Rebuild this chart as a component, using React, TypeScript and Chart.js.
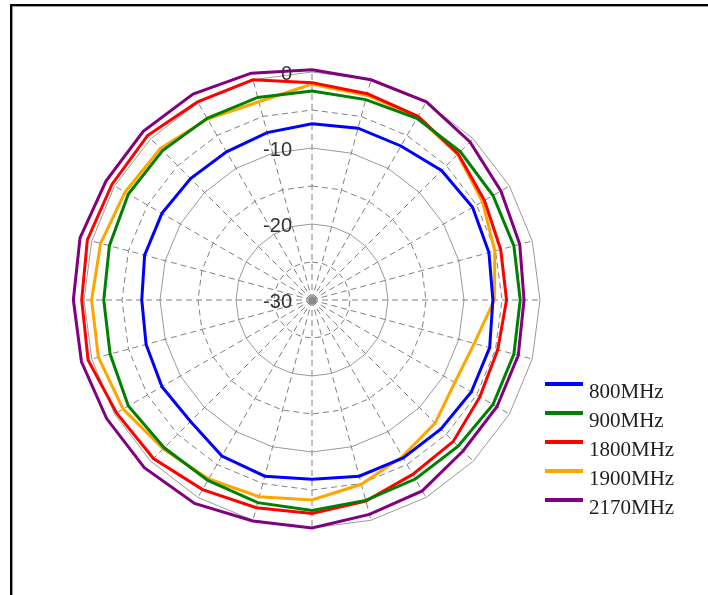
import React, { useEffect, useRef } from 'react';
import { Chart, registerables } from 'chart.js';

Chart.register(...registerables);

// Angles (degrees, clockwise from top)
const angleLabels = [
  '0', '15', '30', '45', '60', '75', '90', '105', '120', '135', '150', '165',
  '180', '195', '210', '225', '240', '255', '270', '285', '300', '315', '330', '345',
];

const seriesNames = ['800MHz', '900MHz', '1800MHz', '1900MHz', '2170MHz'];
const seriesColors = ['#0000ff', '#008000', '#ff0000', '#ffa500', '#800080'];

// Gain in dB at each angle
const values800 = [
  -6.8, -6.6, -6.6, -5.9, -5.6, -5.9, -6.2, -5.8, -5.8, -6.0, -6.0, -6.0,
  -6.4, -6.0, -6.3, -7.4, -7.2, -7.4, -7.6, -7.2, -7.2, -7.4, -7.5, -7.2,
];
const values900 = [
  -2.5, -2.7, -2.4, -2.4, -2.5, -2.5, -2.6, -2.5, -2.5, -2.8, -2.8, -2.7,
  -2.3, -2.4, -2.6, -2.5, -2.1, -2.5, -2.6, -2.4, -2.1, -2.2, -2.4, -2.4,
];
const values1800 = [
  -1.4, -1.9, -2.1, -2.8, -3.8, -4.3, -4.4, -4.7, -4.5, -3.7, -3.5, -2.6,
  -1.9, -1.7, -1.2, -0.5, -0.3, 0.5, 0.3, 0.6, 0.4, 0.6, 0.1, 0.0,
];
const values1900 = [
  -1.6, -2.1, -2.2, -2.9, -4.1, -5.1, -6.0, -7.9, -8.3, -7.1, -6.2, -4.9,
  -3.7, -3.2, -2.8, -2.3, -1.3, -0.9, -1.0, -1.2, -1.6, -1.8, -2.5, -3.0,
];
const values2170 = [
  0.3, 0.0, 0.1, -0.6, -1.3, -1.7, -2.1, -1.9, -1.9, -1.9, -1.0, -0.8,
  0.0, 0.1, 0.9, 1.2, 1.2, 1.4, 1.4, 1.6, 1.3, 1.4, 1.3, 0.9,
];

const seriesValues = [values800, values900, values1800, values1900, values2170];

const radialMin = -30;
const radialMax = 0;
const radialStep = 5;
const tickLabelValues = [0, -10, -20, -30];

const overlayPlugin = {
  id: 'overlay',
  afterDatasetsDraw(chart: any) {
    const r = chart.scales.r;
    const ctx = chart.ctx as CanvasRenderingContext2D;
    ctx.save();
    // centre marker where the dashed spokes meet
    ctx.fillStyle = '#8c8c8c';
    ctx.fillRect(r.xCenter - 3, r.yCenter - 3, 7, 7);
    // radial tick labels
    ctx.font = '20px "Liberation Sans", Arial, sans-serif';
    ctx.fillStyle = '#333';
    ctx.textAlign = 'right';
    ctx.textBaseline = 'middle';
    tickLabelValues.forEach((v) => {
      const d = r.getDistanceFromCenterForValue(v);
      ctx.fillText(String(v), r.xCenter - 20, r.yCenter - d + 2);
    });
    // legend
    const lx = chart.chartArea.right + 5;
    const ly = chart.chartArea.top + 312;
    chart.data.datasets.forEach((ds: any, i: number) => {
      const y = ly + 29 * i;
      ctx.strokeStyle = ds.borderColor;
      ctx.lineWidth = 4;
      ctx.lineCap = 'butt';
      ctx.beginPath();
      ctx.moveTo(lx, y);
      ctx.lineTo(lx + 38, y);
      ctx.stroke();
      ctx.font = '21px "Liberation Serif", "Times New Roman", serif';
      ctx.fillStyle = '#1e1e1e';
      ctx.textAlign = 'left';
      ctx.textBaseline = 'alphabetic';
      ctx.fillText(ds.label, lx + 44, y + 14);
    });
    ctx.restore();
  },
};

export default function App() {
  const canvasRef = useRef<HTMLCanvasElement | null>(null);

  useEffect(() => {
    if (!canvasRef.current) return;
    const chart = new Chart(canvasRef.current, {
      type: 'radar',
      data: {
        labels: angleLabels,
        datasets: seriesNames.map((name, i) => ({
          label: name,
          data: seriesValues[i],
          borderColor: seriesColors[i],
          backgroundColor: seriesColors[i],
          borderWidth: 3,
          pointRadius: 0,
          pointHoverRadius: 0,
          fill: false,
          tension: 0,
          clip: false,
        })),
      },
      options: {
        responsive: false,
        animation: false,
        events: [],
        layout: { padding: { left: 84, top: 72, right: 168, bottom: 67 } },
        plugins: {
          legend: { display: false },
          tooltip: { enabled: false },
        },
        scales: {
          r: {
            min: radialMin,
            max: radialMax,
            startAngle: 0,
            ticks: { display: false, stepSize: radialStep },
            pointLabels: { display: false },
            grid: {
              circular: false,
              lineWidth: 1,
              color: (c: any) =>
                c.tick && c.tick.value % 10 !== 0 ? '#808080' : '#9a9a9a',
            },
            border: {
              dash: (c: any) => (c.tick && c.tick.value % 10 !== 0 ? [6, 4] : []),
            },
            angleLines: {
              display: true,
              color: '#808080',
              lineWidth: 1,
              borderDash: [6, 4],
            },
          },
        },
      } as any,
      plugins: [overlayPlugin],
    });
    return () => chart.destroy();
  }, []);

  return (
    <div
      style={{
        position: 'absolute',
        left: 0,
        top: 0,
        width: 708,
        height: 595,
        overflow: 'hidden',
        background: '#fff',
      }}
    >
      <div
        style={{
          position: 'absolute',
          left: 10,
          top: 4,
          width: 800,
          height: 700,
          borderLeft: '2px solid #000',
          borderTop: '2px solid #000',
          boxShadow: 'inset 1px 1px 0 #9a9a9a',
        }}
      />
      <canvas
        ref={canvasRef}
        width={708}
        height={595}
        style={{ position: 'absolute', left: 0, top: 0, display: 'block' }}
      />
    </div>
  );
}
